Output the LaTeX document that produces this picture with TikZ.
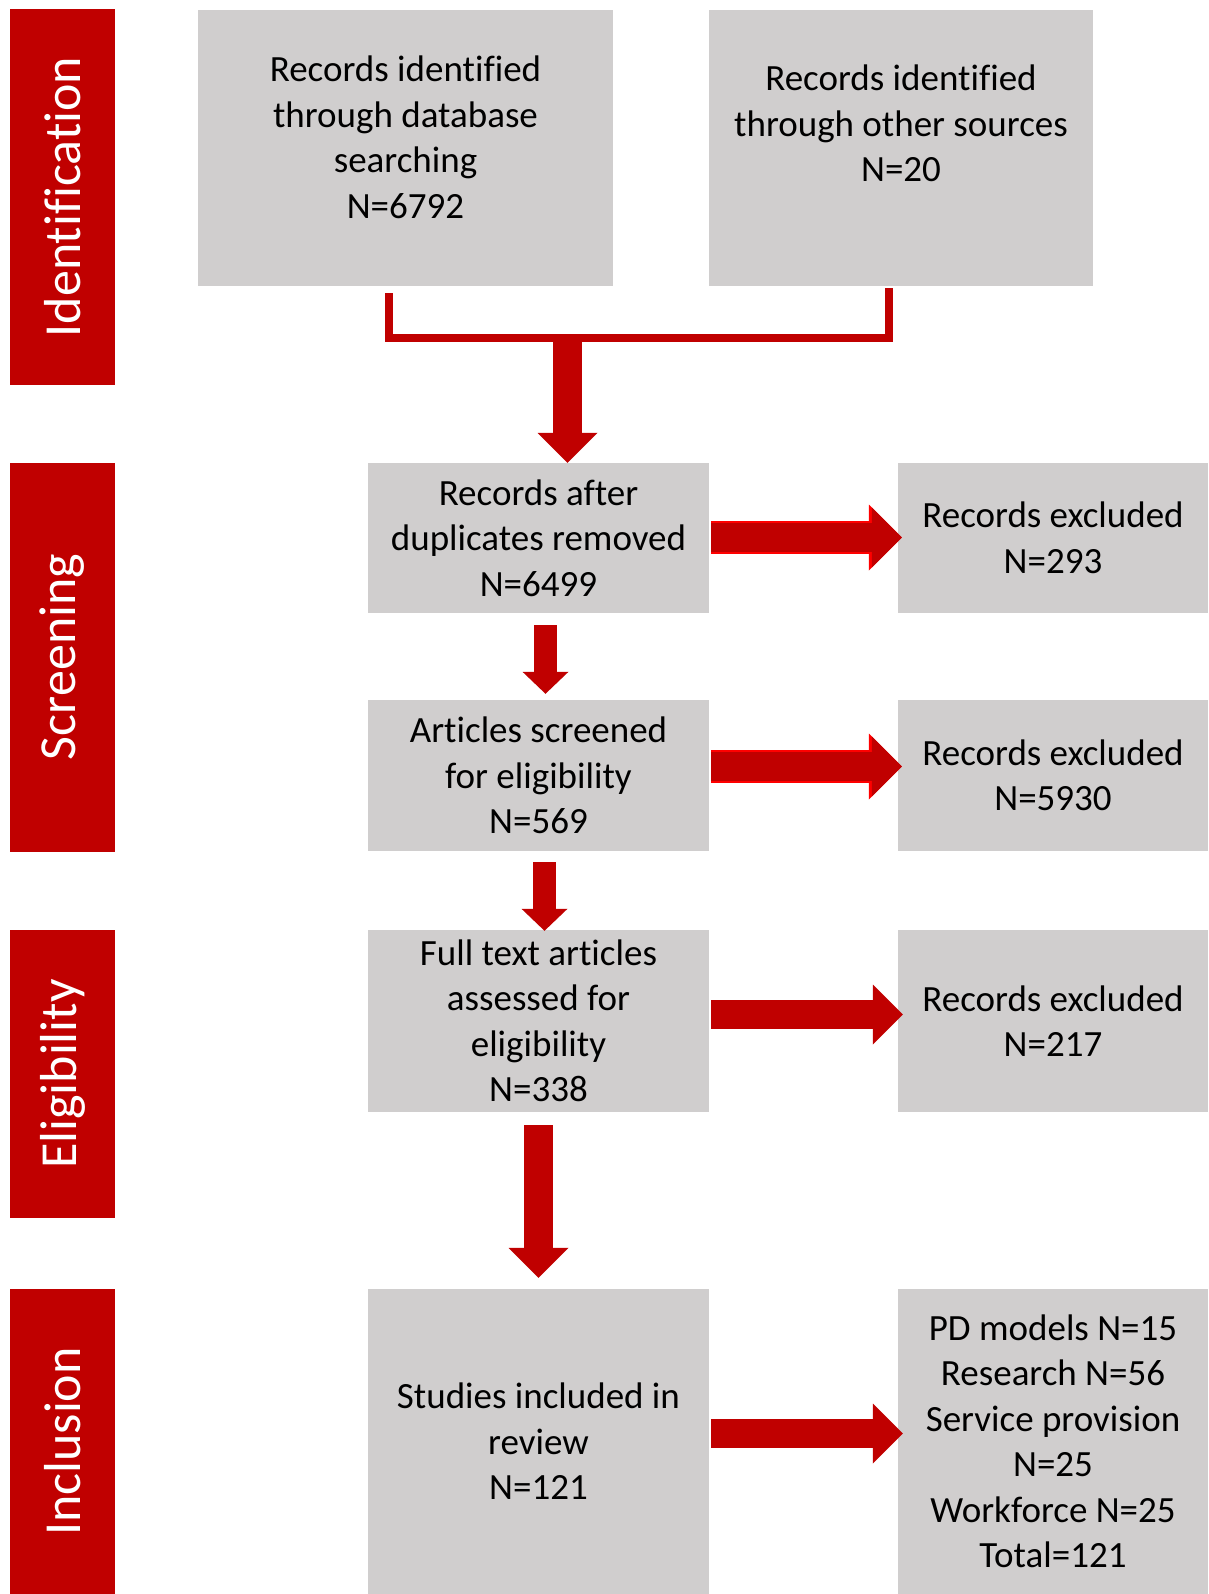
\documentclass[tikz,border=0pt]{standalone}
\usepackage{fontspec}
\setmainfont[Ligatures=NoCommon]{Carlito}
\usetikzlibrary{arrows.meta,calc}

\definecolor{stagered}{HTML}{C00000}
\definecolor{edgered}{HTML}{FF0000}
\definecolor{boxgray}{HTML}{D0CECE}

% text block pushed up inside its box
\newcommand{\liftup}[2]{\raisebox{#1}[\height][\depth]{\begin{tabular}{@{}c@{}}#2\end{tabular}}}

\tikzset{
  phase/.style={fill=stagered, text=white, rotate=90, inner sep=0pt,
    minimum height=105pt, font=\fontsize{52}{62}\selectfont},
  recbox/.style={fill=boxgray, inner sep=0pt, align=center,
    font=\fontsize{37}{45.5}\selectfont},
  bracketline/.style={draw=stagered, line width=8pt},
  fatarrow/.style={draw=stagered, line width=29pt,
    -{Triangle[length=30pt, width=60pt, line width=0pt]}},
  thinarrow/.style={draw=stagered, line width=23pt,
    -{Triangle[length=22pt, width=46pt, line width=0pt]}},
  sidearrow/.style={fatarrow, preaction={draw=edgered, line width=33pt,
    -{Triangle[length=33pt, width=66pt, line width=0pt]}}}
}

\begin{document}
\begin{tikzpicture}[x=1pt, y=-1pt]
    \useasboundingbox (0,0) rectangle (1208,1594);

    % Phase bars
    \node[phase, minimum width=376pt] (ident) at (62.5,197) {Identification};
    \node[phase, minimum width=389pt] (screen) at (62.5,657) {Screening};
    \node[phase, minimum width=288pt] (elig) at (62.5,1074) {Eligibility};
    \node[phase, minimum width=305pt] (incl) at (62.5,1441.5) {Inclusion};

    % Record boxes
    \node[recbox, minimum width=415pt, minimum height=276pt] (db) at (405.5,148)
        {\liftup{7pt}{Records identified\\through database\\searching\\N=6792}};
    \node[recbox, minimum width=384pt, minimum height=276pt] (other) at (901,148)
        {\liftup{21pt}{Records identified\\through other sources\\N=20}};
    \node[recbox, minimum width=341pt, minimum height=150pt] (dedup) at (538.5,538)
        {Records after\\duplicates removed\\N=6499};
    \node[recbox, minimum width=310pt, minimum height=150pt] (excl1) at (1053,538)
        {Records excluded\\N=293};
    \node[recbox, minimum width=341pt, minimum height=151pt] (screened) at (538.5,775.5)
        {Articles screened\\for eligibility\\N=569};
    \node[recbox, minimum width=310pt, minimum height=151pt] (excl2) at (1053,775.5)
        {Records excluded\\N=5930};
    \node[recbox, minimum width=341pt, minimum height=182pt] (fulltext) at (538.5,1021)
        {Full text articles\\assessed for\\eligibility\\N=338};
    \node[recbox, minimum width=310pt, minimum height=182pt] (excl3) at (1053,1021)
        {Records excluded\\N=217};
    \node[recbox, minimum width=341pt, minimum height=305pt] (included) at (538.5,1441.5)
        {Studies included in\\review\\N=121};
    \node[recbox, minimum width=310pt, minimum height=305pt] (groups) at (1053,1441.5)
        {PD models N=15\\Research N=56\\Service provision\\N=25\\Workforce N=25\\Total=121};

    % Merge of the two sources
    \coordinate (merge) at (567.5,338);
    \draw[bracketline] ($(db.south)+(-16.5,7)$) |- (merge) -| ($(other.south)+(-12,2)$);
    \draw[fatarrow] (merge) -- (merge |- dedup.north);

    % Down the main column
    \draw[thinarrow] ($(dedup.south)+(7,12)$) -- ($(screened.north)+(7,-6)$);
    \draw[thinarrow] ($(screened.south)+(6,11)$) -- ($(fulltext.north)+(6,1)$);
    \draw[fatarrow] ($(fulltext.south)+(0,13)$) -- ($(included.north)+(0,-11)$);

    % Exclusions
    \draw[sidearrow] ($(dedup.east)+(2,-0.5)$) -- ($(excl1.west)+(4,-0.5)$);
    \draw[sidearrow] ($(screened.east)+(2,-9)$) -- ($(excl2.west)+(4,-9)$);
    \draw[fatarrow] ($(fulltext.east)+(2,-6.5)$) -- ($(excl3.west)+(5,-6.5)$);
    \draw[fatarrow] ($(included.east)+(2,-8)$) -- ($(groups.west)+(5,-8)$);
\end{tikzpicture}
\end{document}
